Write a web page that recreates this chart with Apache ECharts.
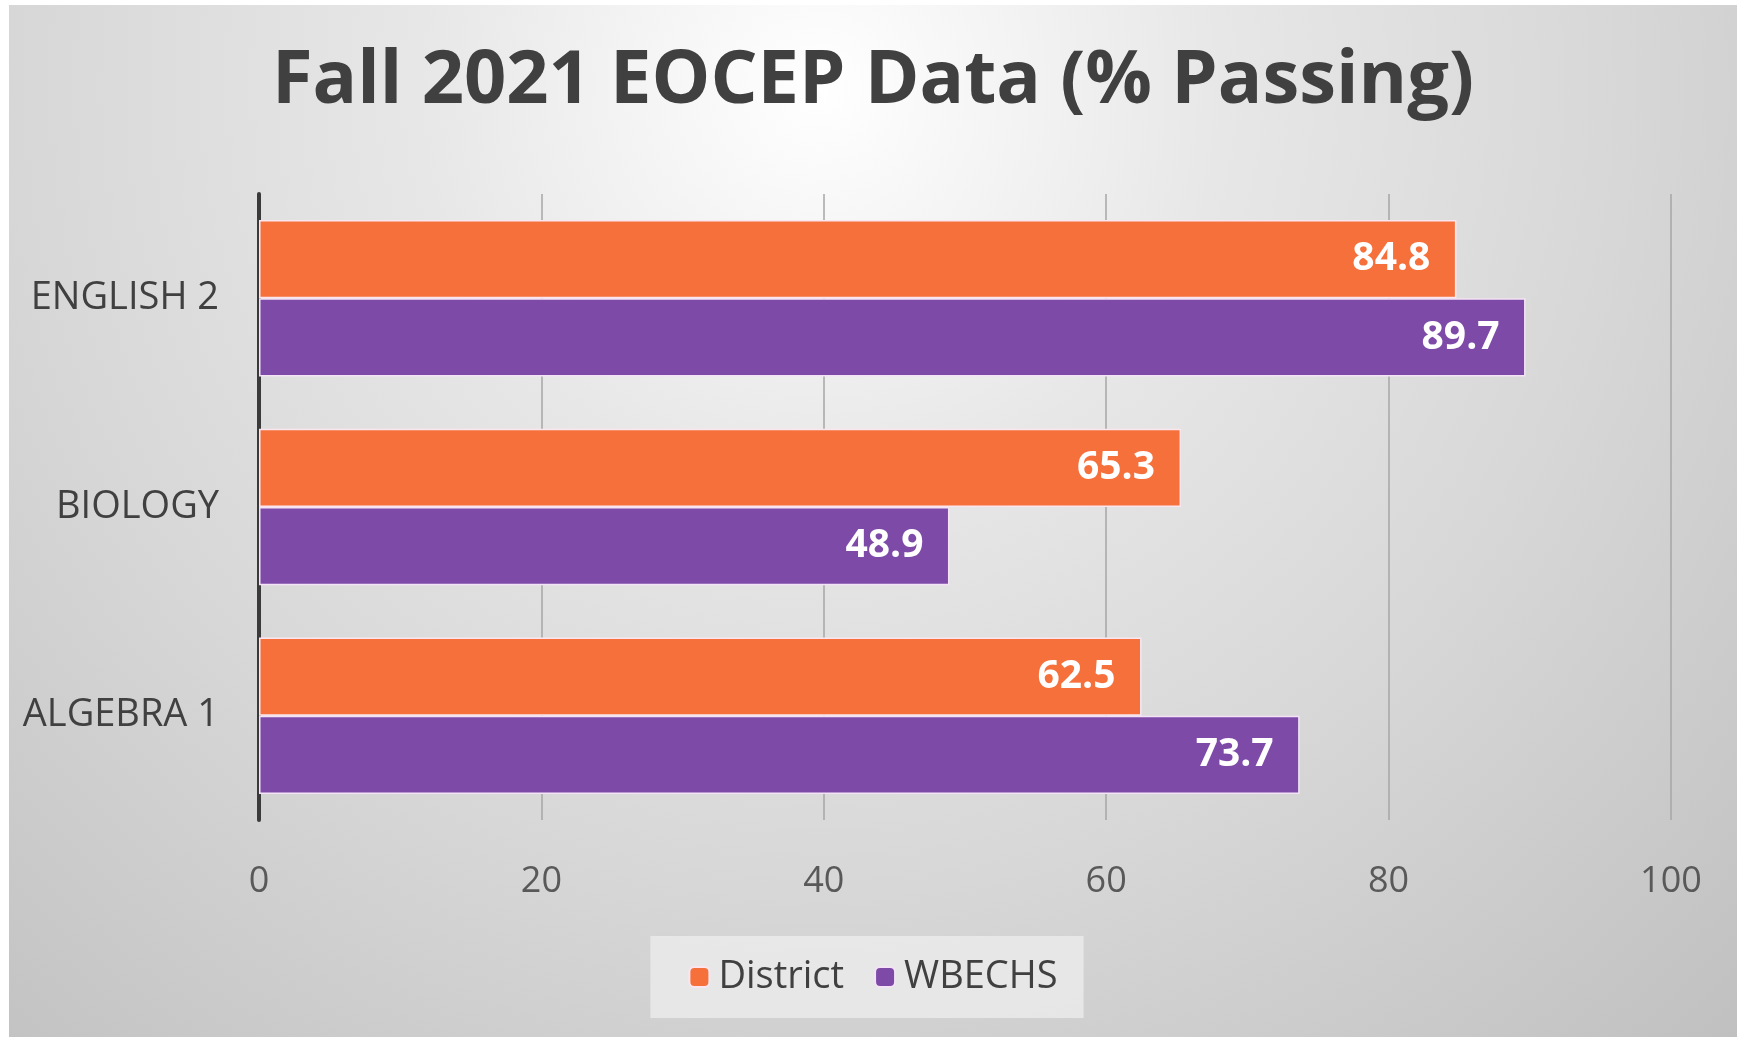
<!DOCTYPE html>
<html>
<head>
<meta charset="utf-8">
<title>Fall 2021 EOCEP Data</title>
<script src="https://cdn.jsdelivr.net/npm/echarts@6/dist/echarts.min.js"></script>
<style>
  html, body { margin: 0; padding: 0; background: #ffffff; }
  #chart { position: absolute; left: 9px; top: 5px; width: 1728px; height: 1032px; }
</style>
</head>
<body>
<div id="chart"></div>
<script>
const subjects = ['ENGLISH 2', 'BIOLOGY', 'ALGEBRA 1'];
const districtValues = [84.8, 65.3, 62.5];
const wbechsValues = [89.7, 48.9, 73.7];
const seriesNames = ['District', 'WBECHS'];

const orange = '#f5703b';
const purple = '#7e4aa8';
const fontFamily = '"Open Sans", "Noto Sans", sans-serif';

const chart = echarts.init(document.getElementById('chart'));

const barLabel = {
    show: true,
    position: 'insideRight',
    distance: 26,
    color: '#ffffff',
    fontFamily: fontFamily,
    fontWeight: 'bold',
    fontSize: 39
};

const option = {
    backgroundColor: {
        type: 'radial',
        x: 0.47, y: 0.08, r: 1.3,
        colorStops: [
            { offset: 0, color: '#ffffff' },
            { offset: 0.3, color: '#e7e7e7' },
            { offset: 0.6, color: '#d7d7d7' },
            { offset: 1, color: '#bfbfbf' }
        ]
    },
    animation: false,
    title: {
        text: 'Fall 2021 EOCEP Data (% Passing)',
        left: 'center',
        top: 35,
        textStyle: {
            fontFamily: fontFamily,
            fontWeight: 'bold',
            fontSize: 74,
            color: '#404040'
        }
    },
    legend: {
        data: seriesNames,
        left: 'center',
        top: 931,
        itemWidth: 20,
        itemHeight: 20,
        itemGap: 30,
        padding: [22, 26, 22, 38],
        backgroundColor: 'rgba(238,238,238,0.75)',
        textStyle: {
            fontFamily: fontFamily,
            fontSize: 38,
            color: '#404040',
            padding: [0, 0, 0, 4]
        }
    },
    grid: {
        left: 250,
        right: 66,
        top: 189,
        bottom: 217
    },
    xAxis: {
        type: 'value',
        min: 0,
        max: 100,
        interval: 20,
        axisLine: { show: false },
        axisTick: { show: false },
        splitLine: { lineStyle: { color: '#a6a6a6', width: 1.5 } },
        axisLabel: {
            margin: 44,
            fontFamily: fontFamily,
            fontSize: 36,
            color: '#595959'
        }
    },
    yAxis: {
        type: 'category',
        data: subjects,
        inverse: true,
        axisLine: { show: true, lineStyle: { color: '#3a3a3a', width: 4 } },
        axisTick: { show: false },
        axisLabel: {
            margin: 40,
            fontFamily: fontFamily,
            fontSize: 38,
            color: '#404040'
        }
    },
    series: [
        {
            name: seriesNames[0],
            type: 'bar',
            data: districtValues,
            barGap: '0%',
            barCategoryGap: '25%',
            itemStyle: { color: orange, borderColor: '#fbe6ef', borderWidth: 1.5 },
            label: barLabel
        },
        {
            name: seriesNames[1],
            type: 'bar',
            data: wbechsValues,
            barGap: '0%',
            barCategoryGap: '25%',
            itemStyle: { color: purple, borderColor: '#f3e3f5', borderWidth: 1.5 },
            label: barLabel
        }
    ]
};

chart.setOption(option);
</script>
</body>
</html>
